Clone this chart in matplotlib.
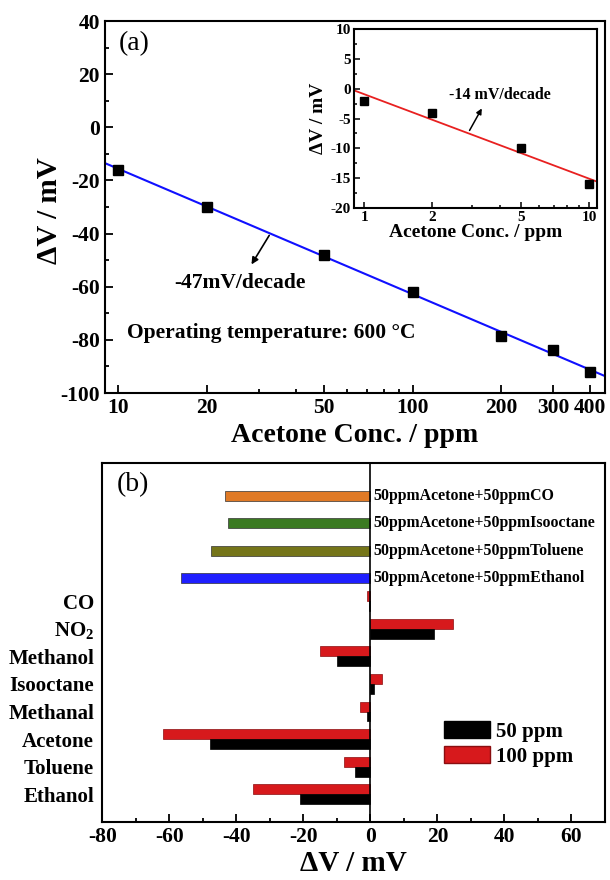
import numpy as np
import matplotlib
matplotlib.use("Agg")
import matplotlib.pyplot as plt
from matplotlib.ticker import MultipleLocator, LogLocator, NullFormatter, FixedLocator, FixedFormatter
from matplotlib.patches import Patch

plt.rcParams['font.family'] = ['Liberation Serif', 'DejaVu Serif']
plt.rcParams['font.weight'] = 'bold'
plt.rcParams['mathtext.fontset'] = 'custom'
plt.rcParams['mathtext.rm'] = 'Liberation Serif:bold'
plt.rcParams['mathtext.bf'] = 'Liberation Serif:bold'
plt.rcParams['axes.linewidth'] = 1.5
plt.rcParams['axes.unicode_minus'] = False

# (a) acetone calibration, 10-400 ppm
conc = [10, 20, 50, 100, 200, 300, 400]
dv = [-16, -30, -48, -62, -78.5, -84, -92]
conc_ticks = [10, 20, 50, 100, 200, 300, 400]

# inset, 1-10 ppm
conc_low = [1, 2, 5, 10]
dv_low = [-2, -4, -10, -16]
conc_low_ticks = [1, 2, 5, 10]

# (b) selectivity
gases = ['Ethanol', 'Toluene', 'Acetone', 'Methanal', 'Isooctane', 'Methanol', 'NO$_2$', 'CO']
dv_50 = [-21, -4.5, -48, -1, 1, -10, 19, -0.5]
dv_100 = [-35, -8, -62, -3, 3.5, -15, 24.5, -1]
mix_labels = ['50ppmAcetone+50ppmEthanol', '50ppmAcetone+50ppmToluene',
              '50ppmAcetone+50ppmIsooctane', '50ppmAcetone+50ppmCO']
mix_dv = [-56.5, -47.5, -42.5, -43.5]
mix_colors = ['#1f1fff', '#757519', '#3b7a22', '#e07a26']

fig = plt.figure(figsize=(6.1, 8.8), dpi=100)

# ---------------- panel (a) ----------------
ax = fig.add_axes([0.1721, 0.5534, 0.8197, 0.4227])
ax.set_xscale('log')
ax.plot(conc, dv, 's', color='black', ms=7, zorder=3)
k, b = np.polyfit(np.log10(conc), dv, 1)
xs = np.logspace(np.log10(9), np.log10(450), 50)
ax.plot(xs, k * np.log10(xs) + b, color='#1010ff', lw=1.5)
ax.set_xlim(9, 450)
ax.set_ylim(-100, 40)
ax.xaxis.set_major_locator(FixedLocator(conc_ticks))
ax.xaxis.set_major_formatter(FixedFormatter([str(c) for c in conc_ticks]))
ax.xaxis.set_minor_locator(LogLocator(subs=np.arange(2, 10)))
ax.xaxis.set_minor_formatter(NullFormatter())
ax.yaxis.set_major_locator(MultipleLocator(20))
ax.yaxis.set_minor_locator(MultipleLocator(10))
ax.tick_params(which='both', direction='in', labelsize=15.5, width=1.3)
ax.tick_params(which='major', length=6)
ax.tick_params(which='minor', length=3)
ax.set_xlabel('Acetone Conc. / ppm', fontsize=20, fontweight='bold', labelpad=4)
ax.set_ylabel('ΔV / mV', fontsize=21, fontweight='bold')
ax.yaxis.set_label_coords(-0.084, 0.49)
ax.text(0.028, 0.94, '(a)', transform=ax.transAxes, fontsize=20, fontweight='normal', va='center')
ax.text(0.044, 0.16, 'Operating temperature: 600 °C', transform=ax.transAxes, fontsize=15.5, va='center')
ax.annotate('', xy=(28, -52.5), xytext=(32.9, -39.8),
            arrowprops=dict(arrowstyle='-|>', color='black', lw=1.2, mutation_scale=10))
ax.text(25.8, -58.6, '-47mV/decade', fontsize=15.5, ha='center', va='center')

# inset
ins = fig.add_axes([0.5803, 0.7636, 0.3984, 0.2034])
ins.set_xscale('log')
ins.plot(conc_low, dv_low, 's', color='black', ms=5.5, zorder=3)
k2, b2 = np.polyfit(np.log10(conc_low), dv_low, 1)
xs2 = np.logspace(np.log10(0.9), np.log10(10.85), 50)
ins.plot(xs2, k2 * np.log10(xs2) + b2, color='#e82020', lw=1.3)
ins.set_xlim(0.9, 10.85)
ins.set_ylim(-20, 10)
ins.xaxis.set_major_locator(FixedLocator(conc_low_ticks))
ins.xaxis.set_major_formatter(FixedFormatter([str(c) for c in conc_low_ticks]))
ins.xaxis.set_minor_locator(LogLocator(subs=np.arange(2, 10)))
ins.xaxis.set_minor_formatter(NullFormatter())
ins.yaxis.set_major_locator(MultipleLocator(5))
ins.yaxis.set_minor_locator(MultipleLocator(2.5))
ins.tick_params(which='both', direction='in', labelsize=11, width=1.1, pad=2)
ins.tick_params(which='major', length=4)
ins.tick_params(which='minor', length=2)
ins.set_xlabel('Acetone Conc. / ppm', fontsize=14, fontweight='bold', labelpad=0)
ins.set_ylabel('ΔV / mV', fontsize=14, fontweight='bold', labelpad=3)
ins.annotate('', xy=(3.38, -2.9), xytext=(2.9, -7.4),
             arrowprops=dict(arrowstyle='-|>', color='black', lw=1.1, mutation_scale=8))
ins.text(4.02, -1.06, '-14 mV/decade', fontsize=11.5, ha='center', va='center')

# ---------------- panel (b) ----------------
bx = fig.add_axes([0.168, 0.0659, 0.8238, 0.408])
y = np.arange(len(gases))
h = 0.36
bx.barh(y + h / 2, dv_100, height=h, color='#d7191c', edgecolor='#8a0e10', lw=0.5, label='100 ppm')
bx.barh(y - h / 2, dv_50, height=h, color='black', edgecolor='black', lw=0.5, label='50 ppm')
y_mix = np.arange(len(gases), len(gases) + len(mix_dv)) - h / 2
bx.barh(y_mix, mix_dv, height=h, color=mix_colors, edgecolor='#333333', lw=0.5)
for yy, lab in zip(y_mix, mix_labels):
    bx.text(1, yy, lab, fontsize=11.4, va='center', ha='left')
bx.axvline(0, color='black', lw=1.2)
bx.set_xlim(-80, 70)
bx.set_ylim(-1, 12)
bx.set_yticks(y)
bx.set_yticklabels(gases, fontsize=15)
bx.tick_params(axis='y', length=0, pad=6)
bx.xaxis.set_major_locator(MultipleLocator(20))
bx.xaxis.set_minor_locator(MultipleLocator(10))
bx.tick_params(axis='x', which='both', direction='in', labelsize=15.5, width=1.3)
bx.tick_params(axis='x', which='major', length=6)
bx.tick_params(axis='x', which='minor', length=3)
bx.set_xlabel('ΔV / mV', fontsize=21, fontweight='bold', labelpad=2)
bx.text(0.028, 0.94, '(b)', transform=bx.transAxes, fontsize=20, fontweight='normal', va='center')
handles = [Patch(facecolor='black', edgecolor='black'), Patch(facecolor='#d7191c', edgecolor='#8a0e10')]
bx.legend(handles, ['50 ppm', '100 ppm'], loc='upper left', bbox_to_anchor=(0.643, 0.333),
          frameon=False, fontsize=15, handlelength=2.2, handleheight=0.9, handletextpad=0.3,
          labelspacing=0.2)

fig.savefig('out.png', dpi=100)
